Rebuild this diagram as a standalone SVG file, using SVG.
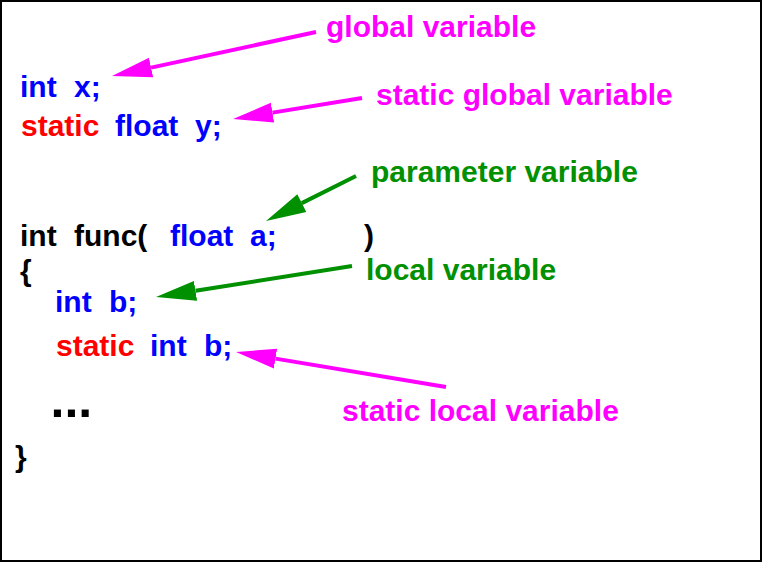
<svg xmlns="http://www.w3.org/2000/svg" width="763" height="563" viewBox="0 0 763 563">
<defs>
<style>
text{font-family:"Liberation Sans",Arial,sans-serif;font-weight:bold;font-size:30px}
.b{fill:#0000ff}.r{fill:#ff0000}.k{fill:#000000}.m{fill:#ff00ff}.g{fill:#009000}
.am{stroke:#ff00ff;stroke-width:4;fill:none;marker-end:url(#hm)}
.ag{stroke:#009000;stroke-width:4;fill:none;marker-end:url(#hg)}
</style>
<marker id="hm" markerUnits="userSpaceOnUse" markerWidth="42" markerHeight="22" viewBox="0 -11 42 22" refX="0" refY="0" orient="auto"><path d="M0,-10 L40,0 L0,10 Z" fill="#ff00ff"/></marker>
<marker id="hg" markerUnits="userSpaceOnUse" markerWidth="42" markerHeight="22" viewBox="0 -11 42 22" refX="0" refY="0" orient="auto"><path d="M0,-10 L40,0 L0,10 Z" fill="#009000"/></marker>
</defs>
<rect x="1" y="1" width="760" height="560" fill="#ffffff" stroke="#000000" stroke-width="2"/>
<g id="code">
<g id="line-int-x"><text class="b" x="20" y="97">int</text><text class="b" x="74" y="97">x;</text></g>
<g id="line-static-float-y"><text class="r" x="21" y="136">static</text><text class="b" x="115" y="136">float</text><text class="b" x="195" y="136">y;</text></g>
<g id="line-func"><text class="k" x="20" y="246">int</text><text class="k" x="74" y="246">func(</text><text class="b" x="170" y="246">float</text><text class="b" x="250" y="246">a;</text><text class="k" x="364" y="246">)</text></g>
<g id="line-open-brace"><text class="k" x="20" y="281">{</text></g>
<g id="line-int-b"><text class="b" x="55" y="312">int</text><text class="b" x="109" y="312">b;</text></g>
<g id="line-static-int-b"><text class="r" x="56" y="356">static</text><text class="b" x="150" y="356">int</text><text class="b" x="204" y="356">b;</text></g>
<g id="line-ellipsis"><text class="k" x="50.5" y="417" style="font-size:50px">...</text></g>
<g id="line-close-brace"><text class="k" x="15" y="467">}</text></g>
</g>
<g id="label-global"><text class="m" x="326" y="37">global variable</text></g>
<g id="label-static-global"><text class="m" x="376" y="105">static global variable</text></g>
<g id="label-parameter"><text class="g" x="371" y="182">parameter variable</text></g>
<g id="label-local"><text class="g" x="366" y="280">local variable</text></g>
<g id="label-static-local"><text class="m" x="342" y="421">static local variable</text></g>
<g id="connectors">
<line class="am" x1="316" y1="32" x2="151.1" y2="67.6"/>
<line class="am" x1="362" y1="98" x2="272.5" y2="112.6"/>
<line class="ag" x1="356" y1="176" x2="301.8" y2="203.1"/>
<line class="ag" x1="352" y1="266" x2="195.5" y2="290.8"/>
<line class="am" x1="446" y1="387" x2="275.5" y2="358.6"/>
</g>
</svg>
